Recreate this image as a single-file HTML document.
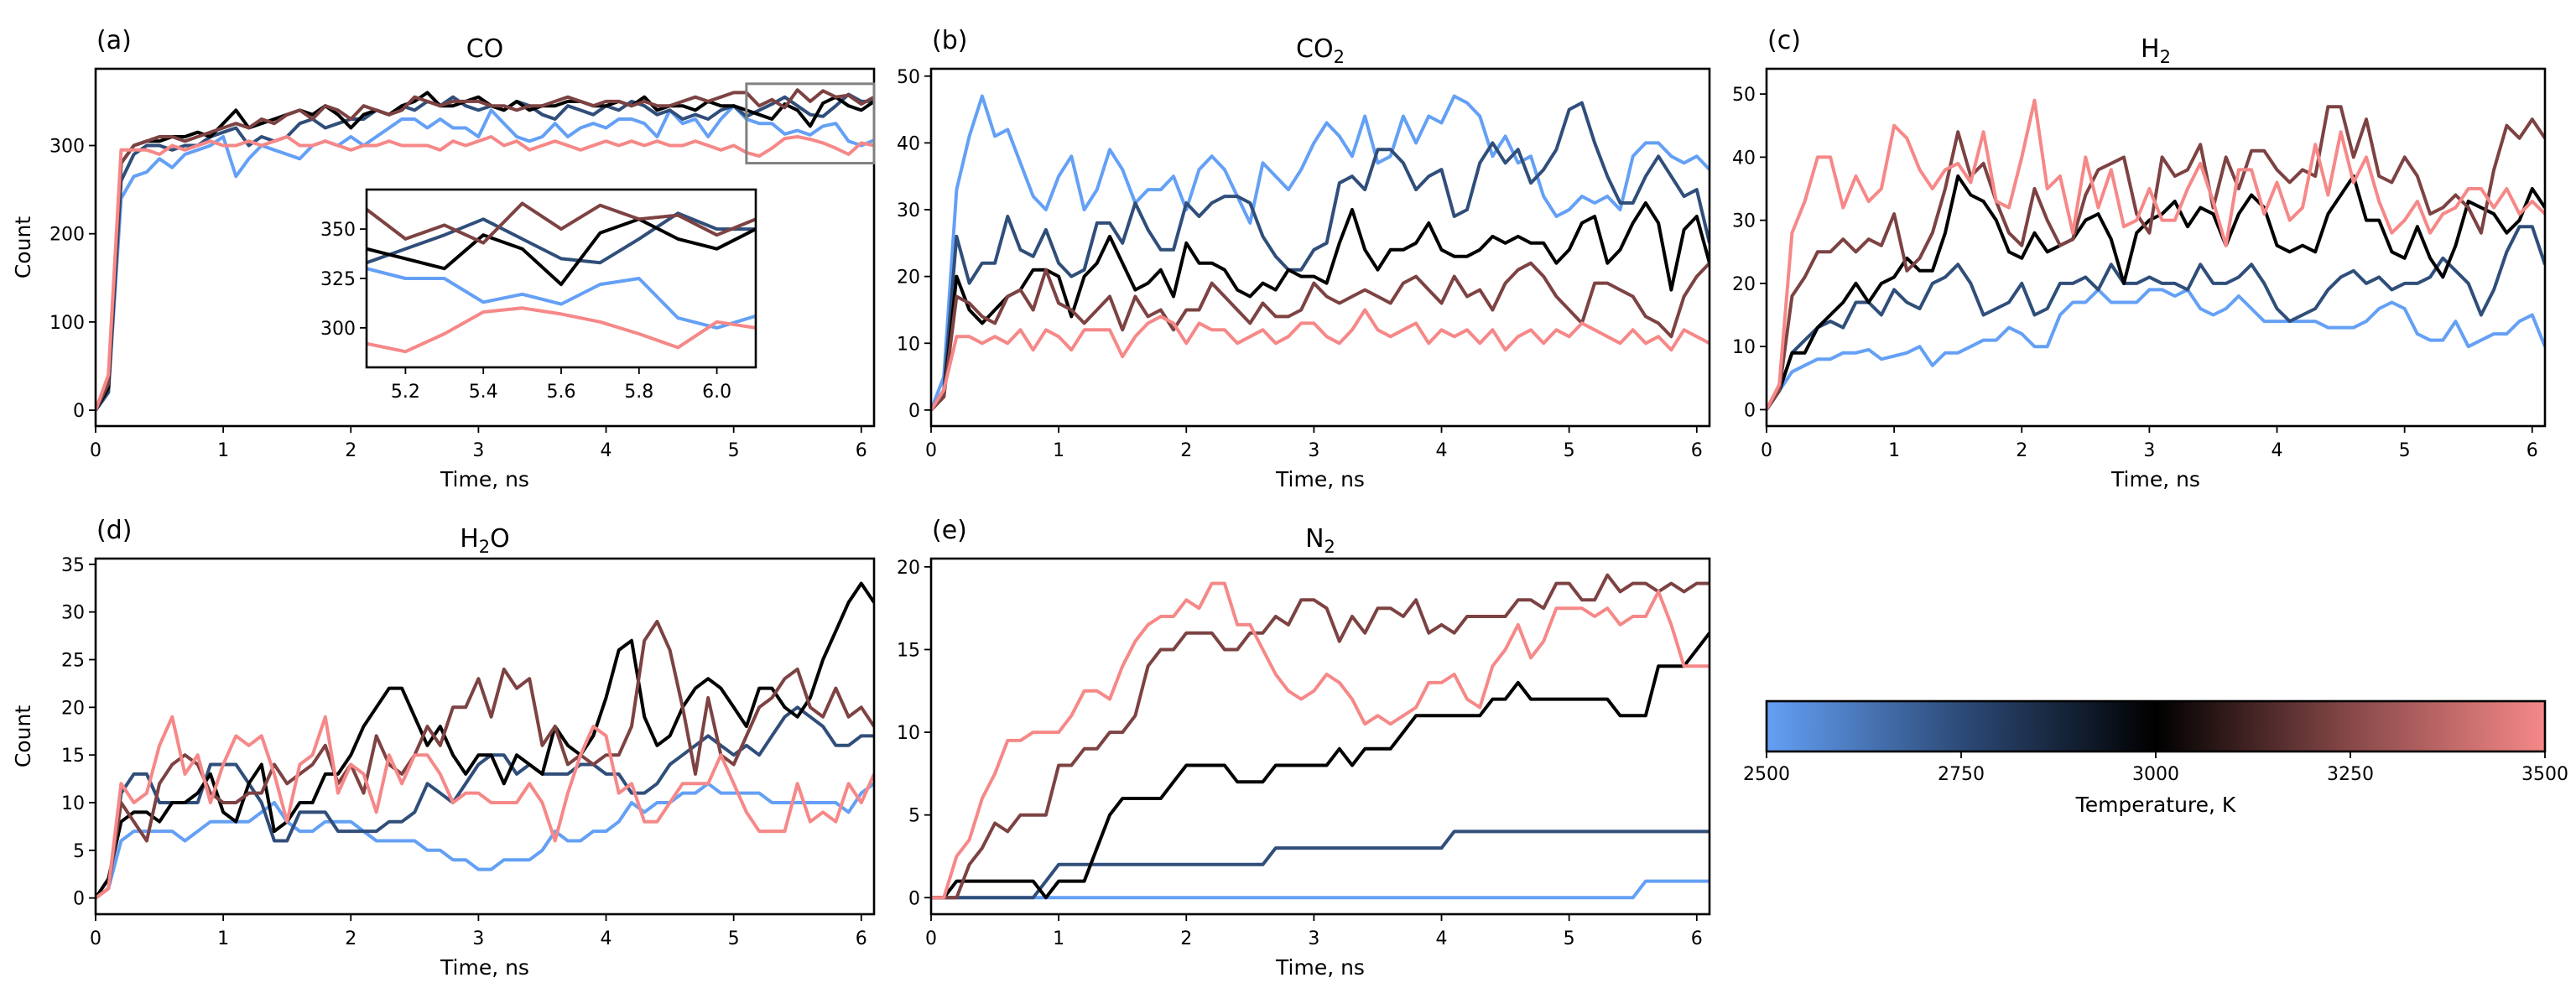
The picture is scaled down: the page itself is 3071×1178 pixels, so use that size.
<!DOCTYPE html>
<html><head><meta charset="utf-8"><style>
html,body{margin:0;padding:0;background:#fff;}
svg{display:block;font-family:"DejaVu Sans","Liberation Sans",sans-serif;}
</style></head><body>
<svg id="fig" width="3071" height="1178" viewBox="0 0 3071 1178" xmlns="http://www.w3.org/2000/svg">
<defs>
<linearGradient id="cmap" x1="0" x2="1" y1="0" y2="0">
<stop offset="0" stop-color="rgb(100,160,245)"/>
<stop offset="0.25" stop-color="rgb(45,75,120)"/>
<stop offset="0.5" stop-color="#000"/>
<stop offset="0.75" stop-color="rgb(135,72,72)"/>
<stop offset="1" stop-color="rgb(246,136,136)"/>
</linearGradient>
</defs>
</svg>
<script>
const T=[0,0.1,0.2,0.3,0.4,0.5,0.6,0.7,0.8,0.9,1.0,1.1,1.2,1.3,1.4,1.5,1.6,1.7,1.8,1.9,2.0,2.1,2.2,2.3,2.4,2.5,2.6,2.7,2.8,2.9,3.0,3.1,3.2,3.3,3.4,3.5,3.6,3.7,3.8,3.9,4.0,4.1,4.2,4.3,4.4,4.5,4.6,4.7,4.8,4.9,5.0,5.1,5.2,5.3,5.4,5.5,5.6,5.7,5.8,5.9,6.0,6.1];
const temps=[2500,2750,3000,3250,3500];
const seriesColors=["rgb(100,160,245)","rgb(48,78,122)","#000000","rgb(125,66,66)","rgb(246,136,136)"];
// CO
const coT2500=[0,20,240,265,270,285,275,290,295,300,310,265,285,300,295,290,285,300,305,300,310,300,310,320,330,330,320,330,320,320,310,340,325,310,305,310,325,310,320,325,320,330,330,325,310,340,325,330,310,330,345,330,325,325,313,317,312,322,325,305,300,306];
const coT2750=[0,20,260,290,300,300,295,300,300,310,315,320,300,310,305,310,325,330,320,325,330,330,340,335,345,340,350,345,355,345,340,345,340,350,345,335,330,345,340,335,345,340,350,345,335,340,330,335,330,340,345,333,340,347,355,345,335,333,345,358,350,350];
const coT3000=[0,25,280,300,305,305,310,310,315,310,325,340,320,325,330,335,340,335,345,335,320,335,340,335,345,350,360,345,345,350,355,345,340,350,340,345,345,350,350,345,345,350,345,355,340,345,345,340,350,345,345,340,335,330,347,340,322,348,355,345,340,350];
const coT3250=[0,30,280,300,305,310,310,305,310,315,320,325,320,330,325,335,340,330,345,340,330,345,340,335,340,355,350,345,350,350,350,345,345,340,345,345,350,355,350,345,350,350,345,350,345,345,350,355,350,355,360,360,345,352,343,363,350,362,355,357,347,355];
const coT3500=[0,40,295,295,295,290,300,295,300,305,300,300,305,300,305,310,300,300,305,300,295,300,300,305,300,300,300,295,305,300,305,310,300,305,295,300,305,300,295,300,305,300,305,300,305,300,300,305,300,295,300,292,288,297,308,310,307,303,297,290,303,300];
// CO2
const co2T2500=[0,5,33,41,47,41,42,37,32,30,35,38,30,33,39,36,31,33,33,35,30,36,38,36,32,28,37,35,33,36,40,43,41,38,44,37,38,44,40,44,43,47,46,44,38,41,37,38,32,29,30,32,31,32,30,38,40,40,38,37,38,36];
const co2T2750=[0,3,26,19,22,22,29,24,23,27,22,20,21,28,28,25,31,27,24,24,31,29,31,32,32,31,26,23,21,21,24,25,34,35,33,39,39,37,33,35,36,29,30,37,40,37,39,34,36,39,45,46,40,35,31,31,35,38,35,32,33,25];
const co2T3000=[0,2,20,15,13,15,17,18,21,21,20,14,20,22,26,22,18,19,21,17,25,22,22,21,18,17,19,18,21,20,20,19,25,30,24,21,24,24,25,28,24,23,23,24,26,25,26,25,25,22,24,28,29,22,24,28,31,28,18,27,29,22];
const co2T3250=[0,2,17,16,14,13,17,18,15,21,16,15,13,15,17,12,17,14,15,12,15,15,19,17,15,13,16,14,14,15,19,17,16,17,18,17,16,19,20,18,16,20,17,18,15,19,21,22,20,17,15,13,19,19,18,17,14,13,11,17,20,22];
const co2T3500=[0,3,11,11,10,11,10,12,9,12,11,9,12,12,12,8,11,13,14,13,10,13,12,12,10,11,12,10,11,13,13,11,10,12,15,12,11,12,13,10,12,11,12,10,12,9,11,12,10,12,11,13,12,11,10,12,10,11,9,12,11,10];
// H2
const h2T2500=[0,3,6,7,8,8,9,9,9.5,8,8.5,9,10,7,9,9,10,11,11,13,12,10,10,15,17,17,19,17,17,17,19,19,18,19,16,15,16,18,16,14,14,14,14,14,13,13,13,14,16,17,16,12,11,11,14,10,11,12,12,14,15,10];
const h2T2750=[0,3,9,11,13,14,13,17,17,15,19,17,16,20,21,23,20,15,16,17,20,15,16,20,20,21,19,23,20,20,21,20,20,19,23,20,20,21,23,20,16,14,15,16,19,21,22,20,21,19,20,20,21,24,22,20,15,19,25,29,29,23];
const h2T3000=[0,3,9,9,13,15,17,20,17,20,21,24,22,22,28,37,34,33,30,25,24,28,25,26,27,30,31,27,20,28,30,31,33,29,32,31,26,31,34,32,26,25,26,25,31,34,37,30,30,25,24,29,24,21,26,33,32,31,28,30,35,32];
const h2T3250=[0,3,18,21,25,25,27,25,27,26,31,22,24,28,35,44,37,39,33,28,26,35,30,26,27,34,38,39,40,31,28,40,37,38,42,32,40,35,41,41,38,36,38,37,48,48,40,46,37,36,40,37,31,32,34,32,28,38,45,43,46,43];
const h2T3500=[0,4,28,33,40,40,32,37,33,35,45,43,38,35,38,39,36,44,33,32,40,49,35,37,28,40,32,38,29,30,35,30,30,35,39,33,26,38,38,31,36,30,32,42,34,44,36,40,33,28,30,33,28,31,32,35,35,32,35,31,33,31];
// H2O
const h2oT2500=[0,1,6,7,7,7,7,6,7,8,8,8,8,9,10,8,7,7,8,8,8,7,6,6,6,6,5,5,4,4,3,3,4,4,4,5,7,6,6,7,7,8,10,9,10,10,11,11,12,11,11,11,11,10,10,10,10,10,10,9,11,12];
const h2oT2750=[0,1,11,13,13,10,10,10,10,14,14,14,12,10,6,6,9,9,9,7,7,7,7,8,8,9,12,11,10,12,14,15,15,13,14,13,13,13,14,14,13,13,11,11,12,14,15,16,17,16,15,16,15,17,19,20,19,18,16,16,17,17];
const h2oT3000=[0,2,8,9,9,8,10,10,11,13,9,8,12,14,7,8,10,10,13,13,15,18,20,22,22,19,16,18,15,13,15,15,12,15,14,13,18,16,15,17,21,26,27,19,16,17,20,22,23,22,20,18,22,22,20,19,21,25,28,31,33,31];
const h2oT3250=[0,1,10,8,6,12,14,15,14,11,10,10,11,11,14,12,13,14,16,12,14,11,17,14,13,15,18,16,20,20,23,19,24,22,23,16,18,14,15,14,15,15,18,27,29,26,20,13,21,15,14,17,20,21,23,24,20,19,22,19,20,18];
const h2oT3500=[0,1,12,10,11,16,19,13,15,10,14,17,16,17,13,8,14,15,19,11,14,13,9,15,12,15,15,13,10,11,11,10,10,10,12,10,6,11,15,18,17,11,12,8,8,10,12,12,12,15,12,9,7,7,7,12,8,9,8,12,10,13];
// N2
const n2T2500=[0,0,0,0,0,0,0,0,0,0,0,0,0,0,0,0,0,0,0,0,0,0,0,0,0,0,0,0,0,0,0,0,0,0,0,0,0,0,0,0,0,0,0,0,0,0,0,0,0,0,0,0,0,0,0,0,1,1,1,1,1,1];
const n2T2750=[0,0,0,0,0,0,0,0,0,1,2,2,2,2,2,2,2,2,2,2,2,2,2,2,2,2,2,3,3,3,3,3,3,3,3,3,3,3,3,3,3,4,4,4,4,4,4,4,4,4,4,4,4,4,4,4,4,4,4,4,4,4];
const n2T3000=[0,0,1,1,1,1,1,1,1,0,1,1,1,3,5,6,6,6,6,7,8,8,8,8,7,7,7,8,8,8,8,8,9,8,9,9,9,10,11,11,11,11,11,11,12,12,13,12,12,12,12,12,12,12,11,11,11,14,14,14,15,16];
const n2T3250=[0,0,0,2,3,4.5,4,5,5,5,8,8,9,9,10,10,11,14,15,15,16,16,16,15,15,16,16,17,16.5,18,18,17.5,15.5,17,16,17.5,17.5,17,18,16,16.5,16,17,17,17,17,18,18,17.5,19,19,18,18,19.5,18.5,19,19,18.5,19,18.5,19,19];
const n2T3500=[0,0,2.5,3.5,6,7.5,9.5,9.5,10,10,10,11,12.5,12.5,12,14,15.5,16.5,17,17,18,17.5,19,19,16.5,16.5,15,13.5,12.5,12,12.5,13.5,13,12,10.5,11,10.5,11,11.5,13,13,13.5,12,11.5,14,15,16.5,14.5,15.5,17.5,17.5,17.5,17,17.5,16.5,17,17,18.5,16.5,14,14,14];
const cbTicks=[2500,2750,3000,3250,3500];

const NS="http://www.w3.org/2000/svg";
const svg=document.getElementById('fig');
function mk(tag,attrs,parent){const e=document.createElementNS(NS,tag);for(const k in attrs)e.setAttribute(k,attrs[k]);(parent||svg).appendChild(e);return e;}

const panels=[
 {key:'co',label:'(a)',title:['CO',null,''],box:[114,82,1042,508],y:[-18,387],yt:[0,100,200,300],ylab:true,series:[coT2500,coT2750,coT3000,coT3250,coT3500]},
 {key:'co2',label:'(b)',title:['CO','2',''],box:[1110,82,2038,508],y:[-2.4,51.1],yt:[0,10,20,30,40,50],ylab:false,series:[co2T2500,co2T2750,co2T3000,co2T3250,co2T3500]},
 {key:'h2',label:'(c)',title:['H','2',''],box:[2106,82,3034,508],y:[-2.6,54],yt:[0,10,20,30,40,50],ylab:false,series:[h2T2500,h2T2750,h2T3000,h2T3250,h2T3500]},
 {key:'h2o',label:'(d)',title:['H','2','O'],box:[114,666,1042,1090],y:[-1.7,35.6],yt:[0,5,10,15,20,25,30,35],ylab:true,series:[h2oT2500,h2oT2750,h2oT3000,h2oT3250,h2oT3500]},
 {key:'n2',label:'(e)',title:['N','2',''],box:[1110,666,2038,1090],y:[-1,20.5],yt:[0,5,10,15,20],ylab:false,series:[n2T2500,n2T2750,n2T3000,n2T3250,n2T3500]}
];
const xt=[0,1,2,3,4,5,6];

function drawSeries(g,ser,sx,sy,clipId,nameBase){
  ser.forEach((arr,i)=>{
    const d=arr.map((v,j)=>(j?'L':'M')+sx(T[j]).toFixed(1)+','+sy(v).toFixed(1)).join('');
    const p=mk('path',{d:d,fill:'none',stroke:seriesColors[i],'stroke-width':4,'stroke-linejoin':'round','clip-path':'url(#'+clipId+')'},g);
    
    
  });
}

panels.forEach(P=>{
  const [x0,y0,x1,y1]=P.box;
  const g=mk('g',{});
  
  
  const sx=v=>x0+(v-0)/(6.1-0)*(x1-x0);
  const sy=v=>y1-(v-P.y[0])/(P.y[1]-P.y[0])*(y1-y0);
  const cp=mk('clipPath',{id:'clip-'+P.key},g);
  mk('rect',{x:x0,y:y0,width:x1-x0,height:y1-y0},cp);
  drawSeries(g,P.series,sx,sy,'clip-'+P.key,P.key);
  const fr=mk('rect',{x:x0,y:y0,width:x1-x0,height:y1-y0,fill:'none',stroke:'#000','stroke-width':2.6},g);
  
  xt.forEach(v=>{
    mk('line',{x1:sx(v),x2:sx(v),y1:y1,y2:y1+8,stroke:'#000','stroke-width':1.8},g);
    const t=mk('text',{x:sx(v),y:y1+36,'font-size':22,'text-anchor':'middle'},g);t.textContent=v;
    
  });
  P.yt.forEach(v=>{
    mk('line',{x1:x0-8,x2:x0,y1:sy(v),y2:sy(v),stroke:'#000','stroke-width':1.8},g);
    const t=mk('text',{x:x0-13,y:sy(v)+8,'font-size':22,'text-anchor':'end'},g);t.textContent=v;
    
  });
  const xl=mk('text',{x:(x0+x1)/2,y:y1+72,'font-size':25,'text-anchor':'middle'},g);xl.textContent='Time, ns';
  
  if(P.ylab){
    const cy=(y0+y1)/2;
    const yl=mk('text',{x:36,y:cy,'font-size':25,'text-anchor':'middle',transform:'rotate(-90 36 '+cy+')'},g);yl.textContent='Count';
    
  }
  const lb=mk('text',{x:x0+1,y:y0-24,'font-size':30},g);lb.textContent=P.label;
  
  const tt=mk('text',{x:(x0+x1)/2,y:y0-14,'font-size':30,'text-anchor':'middle'},g);
  
  const s1=mk('tspan',{},tt);s1.textContent=P.title[0];
  if(P.title[1]){const s2=mk('tspan',{'font-size':21,dy:7},tt);s2.textContent=P.title[1];}
  if(P.title[2]){const s3=mk('tspan',{dy:-7},tt);s3.textContent=P.title[2];}

  if(P.key==='co'){
    // zoom rectangle
    const zr=mk('rect',{x:sx(5.1),y:sy(370),width:sx(6.1)-sx(5.1),height:sy(280)-sy(370),fill:'none',stroke:'#808080','stroke-width':3},g);
    
    const ib=[437,226,901,438];
    const ig=mk('g',{},g);
    
    const isx=v=>ib[0]+(v-5.1)/(1.0)*(ib[2]-ib[0]);
    const isy=v=>ib[3]-(v-280)/(90)*(ib[3]-ib[1]);
    mk('rect',{x:ib[0],y:ib[1],width:ib[2]-ib[0],height:ib[3]-ib[1],fill:'#fff'},ig);
    const cp2=mk('clipPath',{id:'clip-inset'},ig);
    mk('rect',{x:ib[0],y:ib[1],width:ib[2]-ib[0],height:ib[3]-ib[1]},cp2);
    drawSeries(ig,P.series,isx,isy,'clip-inset','inset');
    mk('rect',{x:ib[0],y:ib[1],width:ib[2]-ib[0],height:ib[3]-ib[1],fill:'none',stroke:'#000','stroke-width':2.6},ig);
    [5.2,5.4,5.6,5.8,6.0].forEach(v=>{
      mk('line',{x1:isx(v),x2:isx(v),y1:ib[3],y2:ib[3]+8,stroke:'#000','stroke-width':1.8},ig);
      const t=mk('text',{x:isx(v),y:ib[3]+36,'font-size':22,'text-anchor':'middle'},ig);t.textContent=v.toFixed(1);
      
    });
    [300,325,350].forEach(v=>{
      mk('line',{x1:ib[0]-8,x2:ib[0],y1:isy(v),y2:isy(v),stroke:'#000','stroke-width':1.8},ig);
      const t=mk('text',{x:ib[0]-13,y:isy(v)+8,'font-size':22,'text-anchor':'end'},ig);t.textContent=v;
      
    });
  }
});

// colorbar
const cb=[2106,836,3034,896];
const cg=mk('g',{});


const cbx=v=>cb[0]+(v-2500)/1000*(cb[2]-cb[0]);
mk('rect',{x:cb[0],y:cb[1],width:cb[2]-cb[0],height:cb[3]-cb[1],fill:'url(#cmap)',stroke:'#000','stroke-width':2.6},cg);
cbTicks.forEach(v=>{
  mk('line',{x1:cbx(v),x2:cbx(v),y1:cb[3],y2:cb[3]+8,stroke:'#000','stroke-width':1.8},cg);
  const t=mk('text',{x:cbx(v),y:cb[3]+34,'font-size':22,'text-anchor':'middle'},cg);t.textContent=v;
  
});
const ct=mk('text',{x:(cb[0]+cb[2])/2,y:cb[3]+72,'font-size':25,'text-anchor':'middle'},cg);ct.textContent='Temperature, K';

</script>
</body></html>
